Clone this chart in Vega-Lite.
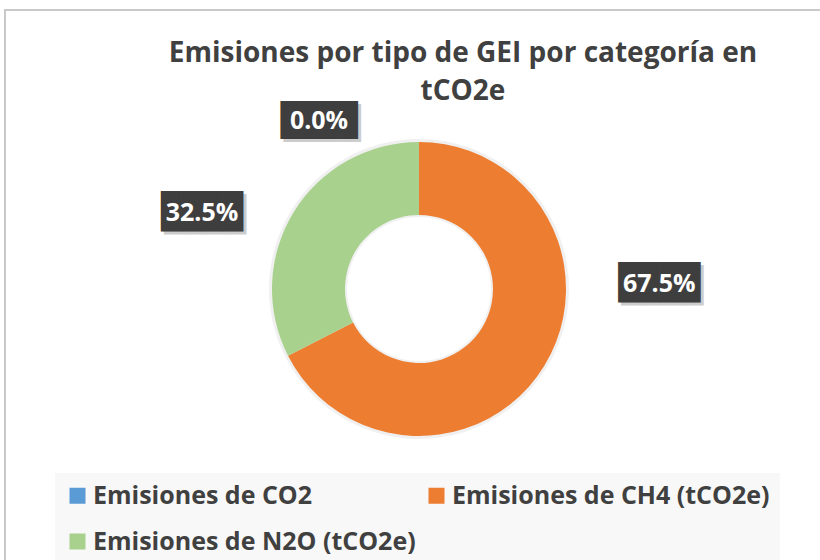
{
  "$schema": "https://vega.github.io/schema/vega-lite/v6.json",
  "autosize": {"type": "none"},
  "padding": {"left": 5, "top": 10, "right": 0, "bottom": 0},
  "width": 828,
  "height": 558,
  "background": "#ffffff",
  "view": {"stroke": "#c9c9c9", "strokeWidth": 2},
  "title": {
    "text": ["Emisiones por tipo de GEI por categoría en", "tCO2e"],
    "font": "Open Sans",
    "fontSize": 28,
    "fontWeight": "bold",
    "color": "#404040",
    "lineHeight": 38,
    "anchor": "middle",
    "frame": "group",
    "offset": -96,
    "dx": 44
  },
  "data": {
    "values": [
      {"cat": "Emisiones de CO2", "share": 0.0, "idx": 1},
      {"cat": "Emisiones de CH4 (tCO2e)", "share": 0.675, "idx": 2},
      {"cat": "Emisiones de N2O (tCO2e)", "share": 0.325, "idx": 3}
    ]
  },
  "encoding": {
    "theta": {"field": "share", "type": "quantitative", "stack": true},
    "order": {"field": "idx", "type": "quantitative"}
  },
  "layer": [
    {
      "mark": {"type": "arc", "innerRadius": 72, "outerRadius": 150, "color": "#000000", "opacity": 0.06}
    },
    {
      "mark": {"type": "arc", "innerRadius": 74, "outerRadius": 147},
      "encoding": {
        "color": {
          "field": "cat",
          "type": "nominal",
          "scale": {
            "domain": ["Emisiones de CO2", "Emisiones de CH4 (tCO2e)", "Emisiones de N2O (tCO2e)"],
            "range": ["#5B9BD5", "#ED7D31", "#A9D18E"]
          },
          "legend": {
            "title": null,
            "orient": "none",
            "legendX": 50,
            "legendY": 463,
            "direction": "horizontal",
            "columns": 2,
            "columnPadding": 8,
            "rowPadding": 20,
            "symbolType": "square",
            "symbolSize": 256,
            "symbolStrokeWidth": 0,
            "labelFont": "Open Sans",
            "labelFontSize": 25,
            "labelFontWeight": "bold",
            "labelColor": "#404040",
            "labelLimit": 500,
            "labelOffset": 3,
            "fillColor": "#f8f8f8",
            "padding": 10
          }
        }
      }
    },
    {
      "transform": [{"filter": "datum.cat === 'Emisiones de CO2'"}],
      "layer": [
        {"mark": {"type": "text", "font": "DejaVu Sans Mono", "fontSize": 32, "radius": 168, "dx": -97, "dy": 3, "color": "#9a9a9a", "opacity": 0.5, "align": "center", "baseline": "middle", "text": "████"}},
        {"mark": {"type": "text", "font": "DejaVu Sans Mono", "fontSize": 32, "radius": 168, "dx": -100, "dy": 0, "color": "#3e3e3e", "align": "center", "baseline": "middle", "text": "████"}},
        {"mark": {"type": "text", "font": "Open Sans", "fontWeight": "bold", "fontSize": 25, "radius": 168, "dx": -100, "dy": 0, "color": "#ffffff", "align": "center", "baseline": "middle"},
         "encoding": {"text": {"field": "share", "format": ".1%"}}}
      ]
    },
    {
      "transform": [{"filter": "datum.cat === 'Emisiones de CH4 (tCO2e)'"}],
      "layer": [
        {"mark": {"type": "text", "font": "DejaVu Sans Mono", "fontSize": 34, "radius": 202, "dx": 71, "dy": -108, "color": "#9a9a9a", "opacity": 0.5, "align": "center", "baseline": "middle", "text": "████"}},
        {"mark": {"type": "text", "font": "DejaVu Sans Mono", "fontSize": 34, "radius": 202, "dx": 68, "dy": -111, "color": "#3e3e3e", "align": "center", "baseline": "middle", "text": "████"}},
        {"mark": {"type": "text", "font": "Open Sans", "fontWeight": "bold", "fontSize": 25, "radius": 202, "dx": 68, "dy": -111, "color": "#ffffff", "align": "center", "baseline": "middle"},
         "encoding": {"text": {"field": "share", "format": ".1%"}}}
      ]
    },
    {
      "transform": [{"filter": "datum.cat === 'Emisiones de N2O (tCO2e)'"}],
      "layer": [
        {"mark": {"type": "text", "font": "DejaVu Sans Mono", "fontSize": 34, "radius": 0, "dx": -214, "dy": -73, "color": "#9a9a9a", "opacity": 0.5, "align": "center", "baseline": "middle", "text": "████"}},
        {"mark": {"type": "text", "font": "DejaVu Sans Mono", "fontSize": 34, "radius": 0, "dx": -217, "dy": -76, "color": "#3e3e3e", "align": "center", "baseline": "middle", "text": "████"}},
        {"mark": {"type": "text", "font": "Open Sans", "fontWeight": "bold", "fontSize": 25, "radius": 0, "dx": -217, "dy": -76, "color": "#ffffff", "align": "center", "baseline": "middle"},
         "encoding": {"text": {"field": "share", "format": ".1%"}}}
      ]
    }
  ]
}
